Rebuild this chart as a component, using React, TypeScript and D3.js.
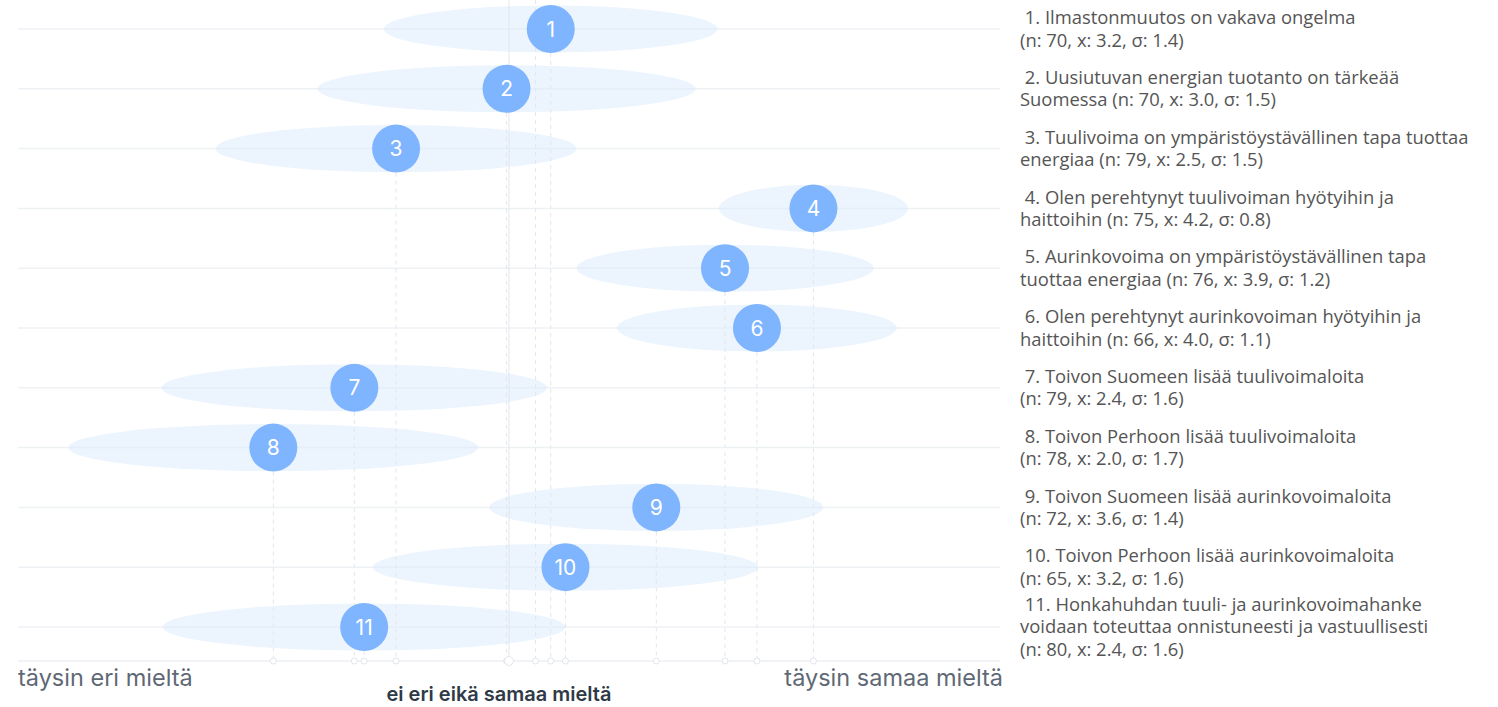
import React, { useEffect, useRef } from "react";
import * as d3 from "d3";

// statement text, one array entry per wrapped line; stats are appended to the last line
const statements: string[][] = [
  [" 1. Ilmastonmuutos on vakava ongelma", ""],
  [" 2. Uusiutuvan energian tuotanto on tärkeää", "Suomessa"],
  [" 3. Tuulivoima on ympäristöystävällinen tapa tuottaa", "energiaa"],
  [" 4. Olen perehtynyt tuulivoiman hyötyihin ja", "haittoihin"],
  [" 5. Aurinkovoima on ympäristöystävällinen tapa", "tuottaa energiaa"],
  [" 6. Olen perehtynyt aurinkovoiman hyötyihin ja", "haittoihin"],
  [" 7. Toivon Suomeen lisää tuulivoimaloita", ""],
  [" 8. Toivon Perhoon lisää tuulivoimaloita", ""],
  [" 9. Toivon Suomeen lisää aurinkovoimaloita", ""],
  [" 10. Toivon Perhoon lisää aurinkovoimaloita", ""],
  [" 11. Honkahuhdan tuuli- ja aurinkovoimahanke", "voidaan toteuttaa onnistuneesti ja vastuullisesti", ""],
];
const counts = [70, 70, 79, 75, 76, 66, 79, 78, 72, 65, 80];
const means = [3.17, 2.99, 2.54, 4.24, 3.88, 4.01, 2.37, 2.04, 3.6, 3.23, 2.41];
const sds = [1.36, 1.54, 1.47, 0.77, 1.21, 1.14, 1.57, 1.67, 1.36, 1.57, 1.64];

const scaleMin = 1;
const scaleMax = 5;
const leftLabel = "täysin eri mieltä";
const rightLabel = "täysin samaa mieltä";
const middleLabel = "ei eri eikä samaa mieltä";

export default function App() {
  const ref = useRef<SVGSVGElement>(null);
  const width = 1498;
  const height = 707;

  useEffect(() => {
    const svg = d3.select(ref.current);
    svg.selectAll("*").remove();

    const x = d3.scaleLinear().domain([scaleMin, scaleMax]).range([18, 1000]);
    const ids = statements.map((d, i) => i);
    const y = d3.scalePoint<number>().domain(ids).range([29, 627]);
    const axisY = 661;
    const ry = 23.5;

    const data = ids.map((i) => ({
      i,
      n: counts[i],
      mean: means[i],
      sd: sds[i],
    }));

    // weighted mean of all answers
    const total = d3.sum(counts);
    const overall = d3.sum(data, (d: any) => d.n * d.mean) / total;

    // horizontal row lines
    svg
      .selectAll(".row-line")
      .data(data)
      .enter()
      .append("line")
      .attr("x1", x(scaleMin))
      .attr("x2", x(scaleMax))
      .attr("y1", (d: any) => y(d.i)!)
      .attr("y2", (d: any) => y(d.i)!)
      .attr("stroke", "#eef1f4")
      .attr("stroke-width", 1.5);

    // axis line
    svg
      .append("line")
      .attr("x1", x(scaleMin))
      .attr("x2", x(scaleMax))
      .attr("y1", axisY)
      .attr("y2", axisY)
      .attr("stroke", "#eceff3")
      .attr("stroke-width", 1.5);

    // spread ellipses
    svg
      .selectAll(".spread")
      .data(data)
      .enter()
      .append("ellipse")
      .attr("cx", (d: any) => x(d.mean))
      .attr("cy", (d: any) => y(d.i)!)
      .attr("rx", (d: any) => (x(d.mean + d.sd / 2) - x(d.mean - d.sd / 2)) / 2)
      .attr("ry", ry)
      .attr("fill", "#dcebfd")
      .attr("fill-opacity", 0.55);

    // middle line
    svg
      .append("line")
      .attr("x1", x(3))
      .attr("x2", x(3))
      .attr("y1", 0)
      .attr("y2", axisY)
      .attr("stroke", "#e2e6ed")
      .attr("stroke-width", 1);

    // overall mean line
    svg
      .append("line")
      .attr("x1", x(overall))
      .attr("x2", x(overall))
      .attr("y1", 0)
      .attr("y2", axisY)
      .attr("stroke", "#e2e6ed")
      .attr("stroke-dasharray", "4,4");

    // dashed drop lines
    svg
      .selectAll(".drop")
      .data(data)
      .enter()
      .append("line")
      .attr("x1", (d: any) => x(d.mean))
      .attr("x2", (d: any) => x(d.mean))
      .attr("y1", (d: any) => y(d.i)!)
      .attr("y2", axisY)
      .attr("stroke", "#e2e6ed")
      .attr("stroke-dasharray", "4,4");

    // axis markers
    const markers = data.map((d: any) => d.mean).concat([overall]);
    svg
      .selectAll(".marker")
      .data(markers)
      .enter()
      .append("circle")
      .attr("cx", (d: number) => x(d))
      .attr("cy", axisY)
      .attr("r", 3)
      .attr("fill", "#fff")
      .attr("stroke", "#e2e6ed");
    svg
      .append("circle")
      .attr("cx", x(3))
      .attr("cy", axisY)
      .attr("r", 4.5)
      .attr("fill", "#fff")
      .attr("stroke", "#e2e6ed");

    // mean circles
    const dots = svg
      .selectAll(".dot")
      .data(data)
      .enter()
      .append("g")
      .attr("transform", (d: any) => `translate(${x(d.mean)},${y(d.i)})`);
    dots.append("circle").attr("r", 24).attr("fill", "#7fb4fe");
    dots
      .append("text")
      .text((d: any) => d.i + 1)
      .attr("text-anchor", "middle")
      .attr("dy", "0.36em")
      .attr("font-family", "Inter, Roboto, sans-serif")
      .attr("font-size", 21)
      .attr("fill", "#fff");

    // statement labels on the right
    const lineH = 22.5;
    const labels = svg
      .selectAll(".label")
      .data(data)
      .enter()
      .append("text")
      .attr("font-family", "'Open Sans', sans-serif")
      .attr("font-size", 18.4)
      .attr("fill", "#555")
      .style("white-space", "pre");
    labels.each(function (d: any) {
      const lines = statements[d.i].slice();
      const stats = `(n: ${d.n}, x: ${d.mean.toFixed(1)}, σ: ${d.sd.toFixed(1)})`;
      const last = lines.length - 1;
      lines[last] = lines[last] ? `${lines[last]} ${stats}` : stats;
      const top = y(d.i)! - ((lines.length - 1) * lineH) / 2;
      d3.select(this)
        .selectAll("tspan")
        .data(lines)
        .enter()
        .append("tspan")
        .attr("x", 1020)
        .attr("y", (l: string, k: number) => top + k * lineH)
        .attr("dy", "0.35em")
        .text((l: string) => l);
    });

    // scale end labels
    svg
      .append("text")
      .text(leftLabel)
      .attr("x", x(scaleMin))
      .attr("y", 686)
      .attr("font-family", "Inter, Roboto, sans-serif")
      .attr("font-size", 23.5)
      .attr("fill", "#5f6975");
    svg
      .append("text")
      .text(rightLabel)
      .attr("x", 1003)
      .attr("y", 686)
      .attr("text-anchor", "end")
      .attr("font-family", "Inter, Roboto, sans-serif")
      .attr("font-size", 23.5)
      .attr("fill", "#5f6975");
    svg
      .append("text")
      .text(middleLabel)
      .attr("x", 499)
      .attr("y", 701)
      .attr("text-anchor", "middle")
      .attr("font-family", "Inter, Roboto, sans-serif")
      .attr("font-size", 20)
      .attr("font-weight", 600)
      .attr("fill", "#2f3a47");
  }, []);

  return (
    <svg
      ref={ref}
      width={width}
      height={height}
      style={{ position: "absolute", left: 0, top: 0, background: "#fff" }}
    />
  );
}
